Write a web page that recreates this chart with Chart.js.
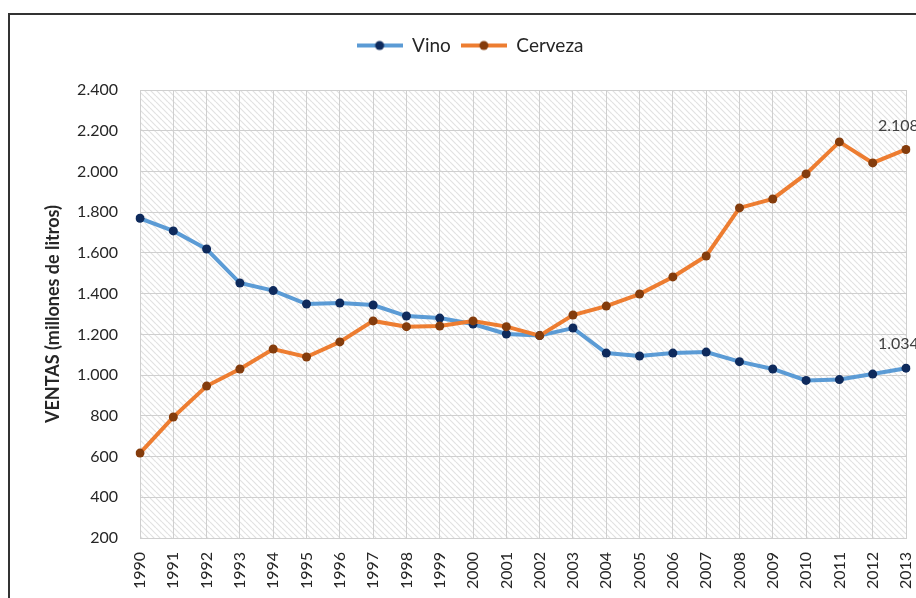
<!DOCTYPE html>
<html>
<head>
<meta charset="utf-8">
<script src="https://cdn.jsdelivr.net/npm/chart.js@4"></script>
<style>
  html, body { margin: 0; padding: 0; background: #fff; overflow: hidden; }
  canvas { display: block; }
</style>
</head>
<body>
<canvas id="ventasChart" width="916" height="598"></canvas>
<script>
const years = ['1990', '1991', '1992', '1993', '1994', '1995', '1996', '1997', '1998', '1999', '2000', '2001',
  '2002', '2003', '2004', '2005', '2006', '2007', '2008', '2009', '2010', '2011', '2012', '2013'];
const vino = [1770, 1708, 1619, 1452, 1415, 1349, 1354, 1344, 1290, 1280, 1251, 1202,
  1194, 1231, 1108, 1094, 1108, 1113, 1066, 1030, 974, 978, 1005, 1034];
const cerveza = [617, 794, 946, 1030, 1128, 1089, 1163, 1266, 1238, 1241, 1266, 1238,
  1194, 1295, 1339, 1398, 1482, 1585, 1821, 1865, 1988, 2145, 2042, 2108];
const yTicks = [200, 400, 600, 800, 1000, 1200, 1400, 1600, 1800, 2000, 2200, 2400];

const FONT = "Lato, 'Liberation Sans', sans-serif";
const TEXT = '#262626';

function fmt(v) {
  return String(v).replace(/\B(?=(\d{3})+(?!\d))/g, '.');
}

// legend icon: line with a dot in the middle, like Excel
function legendIcon(lineColor, dotColor) {
  const c = document.createElement('canvas');
  c.width = 46;
  c.height = 12;
  const g = c.getContext('2d');
  g.strokeStyle = lineColor;
  g.lineWidth = 4;
  g.beginPath();
  g.moveTo(0, 6);
  g.lineTo(46, 6);
  g.stroke();
  g.fillStyle = dotColor;
  g.beginPath();
  g.arc(23, 6, 4.5, 0, Math.PI * 2);
  g.fill();
  return c;
}
const icons = [legendIcon('#5B9BD5', '#0E2A5C'), legendIcon('#ED7D31', '#843C0C')];

// hatched plot background
function hatchPattern(ctx) {
  const p = document.createElement('canvas');
  p.width = 6;
  p.height = 6;
  const g = p.getContext('2d');
  g.fillStyle = '#ffffff';
  g.fillRect(0, 0, 6, 6);
  g.strokeStyle = '#e2e2e2';
  g.lineWidth = 1.2;
  [-6, 0, 6].forEach(o => {
    g.beginPath();
    g.moveTo(o, 0);
    g.lineTo(o + 6, 6);
    g.stroke();
  });
  return ctx.createPattern(p, 'repeat');
}

const frame = {
  id: 'frame',
  beforeDraw(chart) {
    const { ctx, chartArea: a } = chart;
    ctx.save();
    ctx.fillStyle = hatchPattern(ctx);
    ctx.fillRect(a.left, a.top, a.right - a.left, a.bottom - a.top);
    ctx.lineWidth = 2;
    ctx.strokeStyle = '#333';
    ctx.beginPath();
    ctx.moveTo(9, 620);
    ctx.lineTo(9, 14);
    ctx.lineTo(940, 14);
    ctx.stroke();
    ctx.restore();
  },
  beforeLayout(chart) {
    const lg = chart.legend;
    if (lg && !lg._gapDone) {
      const fit = lg.fit;
      lg.fit = function () {
        fit.call(this);
        this.height += 25;
      };
      lg._gapDone = true;
    }
  }
};

const endLabels = {
  id: 'endLabels',
  afterDatasetsDraw(chart) {
    const { ctx } = chart;
    ctx.save();
    ctx.font = '16px ' + FONT;
    ctx.fillStyle = '#404040';
    ctx.textAlign = 'left';
    ctx.textBaseline = 'middle';
    chart.data.datasets.forEach((ds, i) => {
      const pts = chart.getDatasetMeta(i).data;
      const last = pts[pts.length - 1];
      ctx.fillText(fmt(ds.data[ds.data.length - 1]), last.x - 28, last.y - 24);
    });
    ctx.restore();
  }
};

const ctx = document.getElementById('ventasChart').getContext('2d');
new Chart(ctx, {
  type: 'line',
  data: {
    labels: years,
    datasets: [
      {
        label: 'Vino',
        data: vino,
        borderColor: '#5B9BD5',
        borderWidth: 4,
        pointRadius: 4.5,
        pointBackgroundColor: '#0E2A5C',
        pointBorderColor: '#0E2A5C',
        pointBorderWidth: 0,
        order: 1
      },
      {
        label: 'Cerveza',
        data: cerveza,
        borderColor: '#ED7D31',
        borderWidth: 4,
        pointRadius: 4.5,
        pointBackgroundColor: '#843C0C',
        pointBorderColor: '#843C0C',
        pointBorderWidth: 0,
        order: 0
      }
    ]
  },
  options: {
    responsive: false,
    animation: false,
    devicePixelRatio: 1,
    layout: { padding: { top: 26, left: 34, right: 10, bottom: 0 } },
    scales: {
      x: {
        offset: false,
        grid: { color: '#cfcfcf', lineWidth: 1, drawTicks: false },
        border: { color: '#cfcfcf' },
        ticks: {
          autoSkip: false,
          maxRotation: 90,
          minRotation: 90,
          padding: 14,
          color: TEXT,
          font: { family: FONT, size: 16 }
        },
        afterFit(scale) {
          scale.height = 60;
          scale.paddingLeft = 0;
          scale.paddingRight = 0;
        }
      },
      y: {
        min: 200,
        max: 2400,
        afterBuildTicks(scale) { scale.ticks = yTicks.map(v => ({ value: v })); },
        grid: { color: '#cfcfcf', lineWidth: 1, drawTicks: false },
        border: { color: '#cfcfcf' },
        ticks: {
          padding: 22,
          color: TEXT,
          font: { family: FONT, size: 16 },
          callback: v => fmt(v)
        },
        title: {
          display: true,
          text: 'VENTAS (millones de litros)',
          color: TEXT,
          font: { family: FONT, size: 18, weight: 'bold' },
          padding: { top: 8, bottom: 0 }
        },
        afterFit(scale) { scale.width = 106; }
      }
    },
    plugins: {
      legend: {
        position: 'top',
        labels: {
          usePointStyle: true,
          pointStyleWidth: 46,
          boxHeight: 12,
          padding: 10,
          color: TEXT,
          font: { family: FONT, size: 19 },
          sort: (a, b) => a.datasetIndex - b.datasetIndex,
          generateLabels(chart) {
            const items = Chart.defaults.plugins.legend.labels.generateLabels(chart);
            items.forEach(it => { it.pointStyle = icons[it.datasetIndex]; });
            return items;
          }
        }
      },
      tooltip: { enabled: false }
    }
  },
  plugins: [frame, endLabels]
});
</script>
</body>
</html>
